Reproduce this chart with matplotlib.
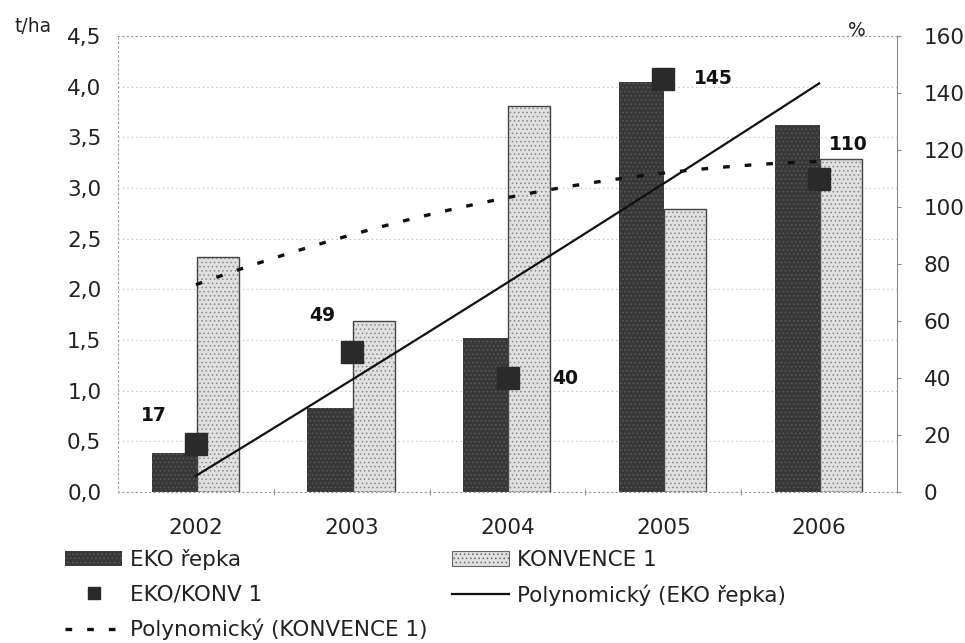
import numpy as np
import matplotlib
matplotlib.use("Agg")
import matplotlib.pyplot as plt
from matplotlib.lines import Line2D
from matplotlib.patches import Patch

plt.rcParams['font.family'] = ['DejaVu Sans']
plt.rcParams['hatch.linewidth'] = 0.6

# data
years = ['2002', '2003', '2004', '2005', '2006']
eko_repka = [0.39, 0.83, 1.52, 4.05, 3.62]      # t/ha
konvence_1 = [2.32, 1.69, 3.81, 2.79, 3.29]     # t/ha
eko_konv = [17, 49, 40, 145, 110]               # %

left_ticks = [0, 0.5, 1.0, 1.5, 2.0, 2.5, 3.0, 3.5, 4.0, 4.5]
right_ticks = [0, 20, 40, 60, 80, 100, 120, 140, 160]

# label offsets for the % values (x in categories, y in %)
lab_dx = [-0.27, -0.19, 0.37, 0.32, 0.19]
lab_dy = [10, 13, 0, 0, 12]

x = np.arange(len(years))
w = 0.29
fs = 15.5

fig = plt.figure(figsize=(9.65, 6.43), dpi=100)
ax = fig.add_axes([0.1223, 0.2348, 0.8073, 0.7092])
ax2 = ax.twinx()

ax.bar(x - 0.14, eko_repka, w, color='#383838', edgecolor='#5a5a5a',
       hatch='....', linewidth=0, zorder=2)
ax.bar(x + 0.14, konvence_1, w - 0.02, color='#e0e0e0', edgecolor='#8a8a8a',
       hatch='....', linewidth=0, zorder=2)
ax.bar(x + 0.14, konvence_1, w - 0.02, fill=False, edgecolor='#444444',
       linewidth=1.0, zorder=2)

# polynomial trend lines (2nd order, like Excel)
xs = np.linspace(0, 4, 100)
p_eko = np.polyfit(x, eko_repka, 2)
p_konv = np.polyfit(x, konvence_1, 2)
ax.plot(xs, np.polyval(p_eko, xs), color='#111111', lw=1.6, zorder=4)
ax.plot(xs, np.polyval(p_konv, xs), color='#111111', lw=2.4,
        linestyle=(0, (2, 4.5)), zorder=4)

ax2.plot(x, eko_konv, 's', color='#2a2a2a', markersize=16.5, zorder=5)
for i, v in enumerate(eko_konv):
    ax2.text(x[i] + lab_dx[i], v + lab_dy[i], str(v), fontsize=13.5,
             fontweight='bold', ha='center', va='center', color='#111111')

ax.set_xlim(-0.5, 4.5)
ax.set_ylim(0, 4.5)
ax2.set_ylim(0, 160)

ax.set_yticks(left_ticks)
ax.set_yticklabels([f"{t:.1f}".replace('.', ',') for t in left_ticks])
ax2.set_yticks(right_ticks)
ax2.set_yticklabels([str(t) for t in right_ticks])
ax.set_xticks(x)
ax.set_xticklabels(years)
ax.set_xticks([0.5, 1.5, 2.5, 3.5], minor=True)

ax.tick_params(axis='y', length=0, pad=12, labelsize=fs, labelcolor='#222222')
ax.tick_params(axis='x', which='major', length=0, pad=19, labelsize=fs,
               labelcolor='#222222')
ax.tick_params(axis='x', which='minor', length=5, direction='inout',
               color='#777777')
ax2.tick_params(axis='y', length=3, direction='out', color='#888888', pad=16,
                labelsize=fs, labelcolor='#222222')

ax.grid(axis='y', color='#b5b5b5', lw=0.8, linestyle=(0, (1, 3)), zorder=0)
for s in ['left', 'top', 'bottom']:
    ax.spines[s].set_color('#999999')
    ax.spines[s].set_linestyle((0, (1, 3)))
    ax2.spines[s].set_visible(False)
ax.spines['right'].set_visible(False)
ax2.spines['right'].set_color('#888888')

fig.text(33 / 965, 1 - 26 / 643, 't/ha', fontsize=13.5, ha='center',
         va='center', color='#222222')
fig.text(857 / 965, 1 - 30 / 643, '%', fontsize=13.5, ha='center',
         va='center', color='#222222')

handles = [
    Patch(facecolor='#383838', edgecolor='#5a5a5a', hatch='....', linewidth=0),
    Line2D([], [], marker='s', color='#2a2a2a', linestyle='none', markersize=8),
    Line2D([], [], color='#111111', lw=2.4, linestyle=(0, (2, 4.5))),
    Patch(facecolor='#e0e0e0', edgecolor='#666666', hatch='....', linewidth=0.8),
    Line2D([], [], color='#111111', lw=1.6),
]
labels = ['EKO řepka', 'EKO/KONV 1', 'Polynomický (KONVENCE 1)',
          'KONVENCE 1', 'Polynomický (EKO řepka)']
fig.legend(handles, labels, loc='upper left', bbox_to_anchor=(65 / 965, 1 - 549 / 643),
           ncol=2, frameon=False, fontsize=fs, handlelength=2.65,
           handletextpad=0.37, columnspacing=1.15, labelspacing=0.67,
           borderpad=0, borderaxespad=0, labelcolor='#222222')

fig.savefig('out.png', dpi=100)
